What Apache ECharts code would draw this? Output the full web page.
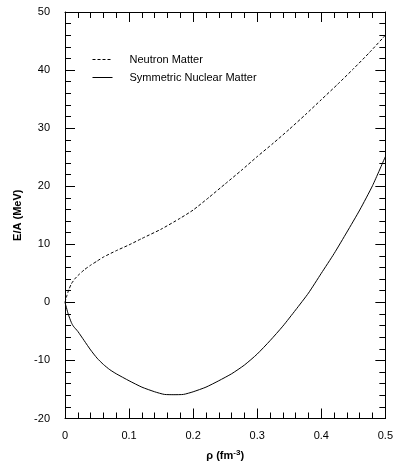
<!DOCTYPE html>
<html>
<head>
<meta charset="utf-8">
<script src="https://cdn.jsdelivr.net/npm/echarts@6/dist/echarts.min.js"></script>
<style>html,body{margin:0;padding:0;background:#fff}#c{width:396px;height:466px}</style>
</head>
<body>
<div id="c"></div>
<script>
var neutronRho = [0, 0.003, 0.006, 0.01, 0.015, 0.02, 0.03, 0.04, 0.05, 0.06, 0.08, 0.1, 0.12, 0.15, 0.18, 0.2, 0.225, 0.25, 0.275, 0.3, 0.325, 0.35, 0.375, 0.4, 0.425, 0.45, 0.475, 0.5];
var neutronE   = [0, 1.2, 2.2, 3.2, 4.0, 4.6, 5.6, 6.4, 7.1, 7.8, 8.9, 9.9, 11.0, 12.6, 14.5, 15.9, 18.1, 20.4, 22.7, 25.1, 27.4, 29.8, 32.3, 34.9, 37.5, 40.2, 43.0, 46.0];
var symRho = [0, 0.005, 0.01, 0.013, 0.02, 0.03, 0.04, 0.05, 0.06, 0.07, 0.08, 0.1, 0.12, 0.14, 0.155, 0.17, 0.185, 0.2, 0.22, 0.24, 0.26, 0.28, 0.3, 0.32, 0.34, 0.36, 0.38, 0.4, 0.42, 0.44, 0.46, 0.48, 0.5];
var symE   = [0, -2.0, -3.5, -4.1, -5.0, -6.6, -8.2, -9.6, -10.7, -11.6, -12.3, -13.5, -14.6, -15.4, -15.85, -15.9, -15.85, -15.4, -14.6, -13.5, -12.3, -10.8, -8.9, -6.6, -4.1, -1.3, 1.6, 5.0, 8.4, 12.1, 15.9, 20.1, 25.1];
var xTicks = [0, 0.1, 0.2, 0.3, 0.4, 0.5];
var yTicks = [-20, -10, 0, 10, 20, 30, 40, 50];
var seriesNames = ['Neutron Matter', 'Symmetric Nuclear Matter'];

function pairs(xs, ys) { return xs.map(function (x, i) { return [x, ys[i]]; }); }

var font = 'Liberation Sans, Arial, Helvetica, sans-serif';
var axisCommon = {
  axisLine: { show: true, onZero: false, lineStyle: { color: '#000', width: 1 } },
  axisTick: { show: true, inside: true, length: 10, lineStyle: { color: '#000', width: 1 } },
  minorTick: { show: true, splitNumber: 5, length: 6, lineStyle: { color: '#000', width: 1 } },
  splitLine: { show: false },
  minorSplitLine: { show: false }
};
function ax(o) { return Object.assign({}, JSON.parse(JSON.stringify(axisCommon)), o); }

var chart = echarts.init(document.getElementById('c'), null, { renderer: 'canvas' });
chart.setOption({
  animation: false,
  backgroundColor: '#fff',
  grid: { left: 65, right: 10, top: 12, bottom: 47 },
  legend: {
    orient: 'vertical',
    left: 87, top: 49,
    itemWidth: 20, itemHeight: 8, itemGap: 7,
    itemStyle: { color: 'transparent', borderColor: 'transparent', borderWidth: 0, opacity: 0 },
    lineStyle: { width: 1 },
    textStyle: { fontFamily: font, fontSize: 11, color: '#000', padding: [0, 0, 0, 12] },
    data: seriesNames
  },
  xAxis: [
    ax({
      type: 'value', min: xTicks[0], max: xTicks[xTicks.length - 1], interval: 0.1, position: 'bottom',
      axisLabel: { margin: 12, fontFamily: font, fontSize: 11, color: '#000', formatter: function (v) { return xTicks.indexOf(Math.round(v * 10) / 10) >= 0 ? String(Math.round(v * 10) / 10) : ''; } },
      name: '{b|ρ (fm}{s|-3}{b|)}', nameLocation: 'middle', nameGap: 30,
      nameTextStyle: { rich: {
        b: { fontFamily: font, fontSize: 11, fontWeight: 'bold', color: '#000' },
        s: { fontFamily: font, fontSize: 8, fontWeight: 'bold', color: '#000', verticalAlign: 'top', padding: [0, 0, 6, 0] }
      } }
    }),
    ax({ type: 'value', min: 0, max: 0.5, interval: 0.1, position: 'top', axisLabel: { show: false } })
  ],
  yAxis: [
    ax({
      type: 'value', min: yTicks[0], max: yTicks[yTicks.length - 1], interval: 10, position: 'left',
      axisLabel: { margin: 15, fontFamily: font, fontSize: 11, color: '#000' },
      name: 'E/A (MeV)', nameLocation: 'middle', nameGap: 32,
      nameTextStyle: { fontFamily: font, fontSize: 11, fontWeight: 'bold', color: '#000' }
    }),
    ax({ type: 'value', min: -20, max: 50, interval: 10, position: 'right', axisLabel: { show: false } })
  ],
  series: [
    {
      name: seriesNames[0], type: 'line', data: pairs(neutronRho, neutronE),
      showSymbol: false, symbol: 'none', smooth: 0.2,
      lineStyle: { color: '#000', width: 1, type: [3, 2] },
      itemStyle: { color: '#000' }
    },
    {
      name: seriesNames[1], type: 'line', data: pairs(symRho, symE),
      showSymbol: false, symbol: 'none', smooth: 0.2,
      lineStyle: { color: '#000', width: 1, type: 'solid' },
      itemStyle: { color: '#000' }
    }
  ]
});
</script>
</body>
</html>
